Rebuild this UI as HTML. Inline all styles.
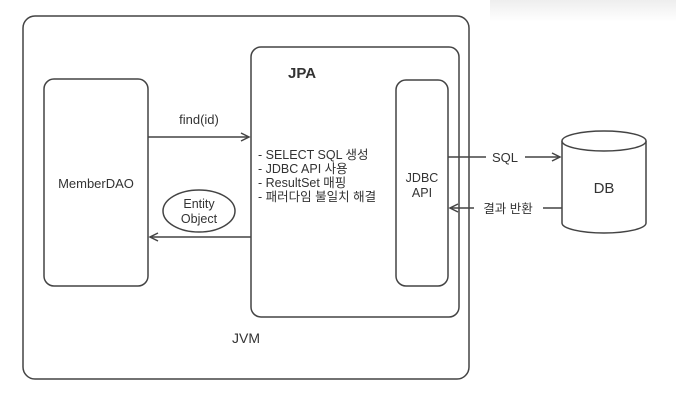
<!DOCTYPE html>
<html><head><style>
html,body{margin:0;padding:0;background:#fff;}
svg{display:block;}
text{font-family:"Liberation Sans","Noto Sans CJK KR",sans-serif;fill:#333;}
</style></head><body>
<svg width="676" height="413" viewBox="0 0 676 413">
<defs>
<linearGradient id="g" x1="0" y1="0" x2="0" y2="1"><stop offset="0" stop-color="#eee"/><stop offset="1" stop-color="#fff"/></linearGradient>
</defs>
<rect x="490" y="0" width="186" height="22" fill="url(#g)"/>
<g fill="none" stroke="#444" stroke-width="1.5">
<rect x="23" y="16" width="446" height="363" rx="12"/>
<rect x="251" y="47" width="208" height="270" rx="10"/>
<rect x="396" y="80" width="52" height="206" rx="10"/>
<rect x="44" y="79" width="104" height="207" rx="10"/>
<ellipse cx="199" cy="211" rx="36" ry="21"/>
<line x1="148" y1="137" x2="249" y2="137"/>
<polyline points="241,133 249,137 241,141"/>
<line x1="251" y1="237" x2="150" y2="237"/>
<polyline points="158,233 150,237 158,241"/>
<line x1="448" y1="157" x2="486" y2="157"/>
<line x1="525" y1="157" x2="560" y2="157"/>
<polyline points="552,153 560,157 552,161"/>
<line x1="562" y1="208" x2="543" y2="208"/>
<line x1="474" y1="208" x2="450" y2="208"/>
<polyline points="458,204 450,208 458,212"/>
<path d="M562 141 L562 223 A42 10 0 0 0 646 223 L646 141"/>
<ellipse cx="604" cy="141" rx="42" ry="10" fill="#fff"/>
</g>
<text x="96" y="188" font-size="13" text-anchor="middle">MemberDAO</text>
<text x="199" y="136" font-size="13" text-anchor="middle" dy="-12">find(id)</text>
<text x="199" y="208" font-size="12.5" text-anchor="middle">Entity</text>
<text x="199" y="223" font-size="12.5" text-anchor="middle">Object</text>
<text x="288" y="78" font-size="15" font-weight="bold">JPA</text>
<text x="258" y="159" font-size="12.5">- SELECT SQL 생성</text>
<text x="258" y="173" font-size="12.5">- JDBC API 사용</text>
<text x="258" y="187" font-size="12.5">- ResultSet 매핑</text>
<text x="258" y="201" font-size="12.5">- 패러다임 불일치 해결</text>
<text x="422" y="182" font-size="12.5" text-anchor="middle">JDBC</text>
<text x="422" y="197" font-size="12.5" text-anchor="middle">API</text>
<text x="505" y="162" font-size="13" text-anchor="middle">SQL</text>
<text x="508" y="213" font-size="12.5" text-anchor="middle">결과 반환</text>
<text x="604" y="193" font-size="15" text-anchor="middle">DB</text>
<text x="246" y="343" font-size="14" text-anchor="middle">JVM</text>
</svg>
</body></html>
